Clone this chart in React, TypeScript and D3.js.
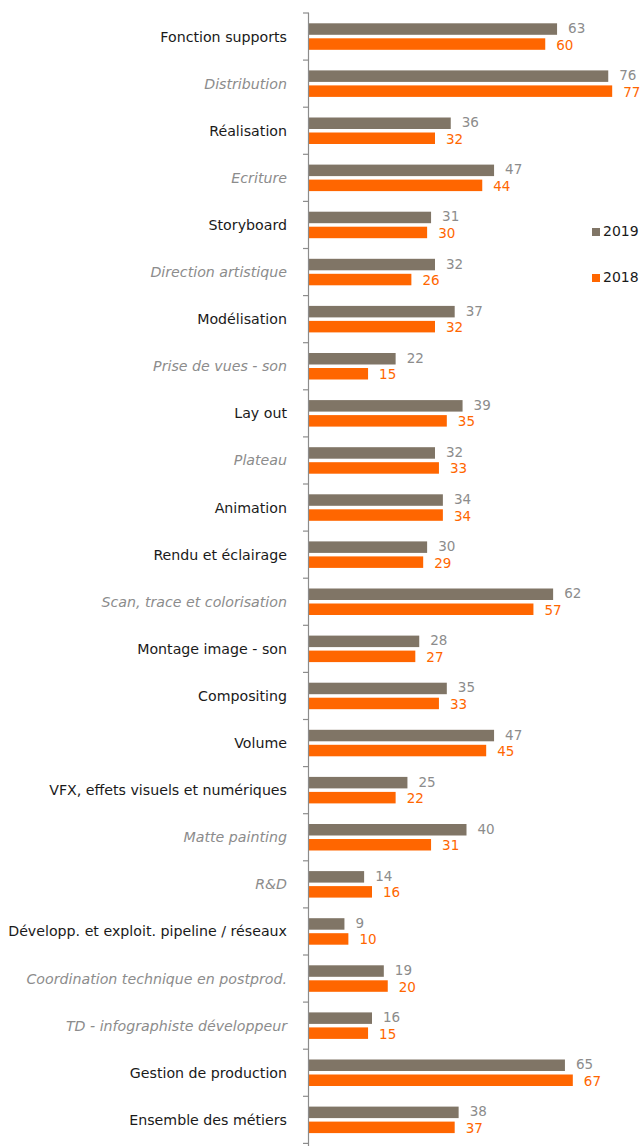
import React, { useEffect, useRef } from 'react';
import * as d3 from 'd3';

const categories = [
  'Fonction supports', 'Distribution', 'Réalisation', 'Ecriture', 'Storyboard',
  'Direction artistique', 'Modélisation', 'Prise de vues - son', 'Lay out', 'Plateau',
  'Animation', 'Rendu et éclairage', 'Scan, trace et colorisation', 'Montage image - son',
  'Compositing', 'Volume', 'VFX, effets visuels et numériques', 'Matte painting', 'R&D',
  'Développ. et exploit. pipeline / réseaux', 'Coordination technique en postprod.',
  'TD - infographiste développeur', 'Gestion de production', 'Ensemble des métiers',
];

// italic grey labels in the original
const italicCats = [
  'Distribution', 'Ecriture', 'Direction artistique', 'Prise de vues - son', 'Plateau',
  'Scan, trace et colorisation', 'Matte painting', 'R&D',
  'Coordination technique en postprod.', 'TD - infographiste développeur',
];

const values2019 = [63, 76, 36, 47, 31, 32, 37, 22, 39, 32, 34, 30, 62, 28, 35, 47, 25, 40, 14, 9, 19, 16, 65, 38];
const values2018 = [60, 77, 32, 44, 30, 26, 32, 15, 35, 33, 34, 29, 57, 27, 33, 45, 22, 31, 16, 10, 20, 15, 67, 37];

const series = ['2019', '2018'];
const colors = { '2019': '#807566', '2018': '#ff6600' };
const labelColors = { '2019': '#8c8c8c', '2018': '#ff6600' };

const App = () => {
  const svgRef = useRef<SVGSVGElement>(null);

  useEffect(() => {
    const width = 641;
    const height = 1146;
    const axisX = 309;
    const top = 13;
    const font = 'Tahoma, "DejaVu Sans", sans-serif';

    const svg = d3.select(svgRef.current);
    svg.selectAll('*').remove();

    const y = d3.scaleBand().domain(categories).range([top, top + 47.1 * categories.length]);
    const x = d3.scaleLinear().domain([0, 80]).range([axisX, axisX + 315]);
    const barH = 11.5;
    const gap = 3.5;

    const rows = svg.append('g');

    categories.forEach((c, i) => {
      const cy = y(c)! + y.bandwidth() / 2;
      const vals = [values2019[i], values2018[i]];
      vals.forEach((v, k) => {
        const s = series[k];
        const by = k === 0 ? cy - gap / 2 - barH : cy + gap / 2;
        rows.append('rect')
          .attr('x', x(0))
          .attr('y', by)
          .attr('width', x(v) - x(0))
          .attr('height', barH)
          .attr('fill', colors[s]);
        rows.append('text')
          .attr('x', x(v) + 11)
          .attr('y', by + barH / 2 + (k === 0 ? 0 : 1.5))
          .attr('dominant-baseline', 'middle')
          .attr('font-family', font)
          .attr('font-size', 13.5)
          .attr('fill', labelColors[s])
          .text(v);
      });

      const italic = italicCats.includes(c);
      rows.append('text')
        .attr('x', 287)
        .attr('y', cy + 1)
        .attr('dominant-baseline', 'middle')
        .attr('text-anchor', 'end')
        .attr('font-family', font)
        .attr('font-size', 14.2)
        .attr('font-style', italic ? 'italic' : 'normal')
        .attr('fill', italic ? '#8c8c8c' : '#1a1a1a')
        .text(c);
    });

    // axis line and ticks
    const axis = svg.append('g').attr('stroke', '#8c8c8c').attr('stroke-width', 1.2);
    axis.append('line')
      .attr('x1', axisX - 0.5).attr('x2', axisX - 0.5)
      .attr('y1', y.range()[0]).attr('y2', height);
    const bounds = categories.map(c => y(c)!).concat([y.range()[1]]);
    axis.selectAll('.tick')
      .data(bounds)
      .enter().append('line')
      .attr('x1', axisX - 6).attr('x2', axisX)
      .attr('y1', d => d).attr('y2', d => d);

    // legend
    const legend = svg.append('g');
    series.forEach((s, i) => {
      const ly = 232 + i * 46;
      legend.append('rect')
        .attr('x', 592).attr('y', ly - 4)
        .attr('width', 8).attr('height', 8)
        .attr('fill', colors[s]);
      legend.append('text')
        .attr('x', 603).attr('y', ly)
        .attr('dominant-baseline', 'middle')
        .attr('font-family', font)
        .attr('font-size', 14)
        .attr('fill', '#1a1a1a')
        .text(s);
    });

    svg.attr('width', width).attr('height', height);
  }, []);

  return (
    <svg ref={svgRef} style={{ position: 'absolute', left: 0, top: 0, background: '#fff' }}></svg>
  );
};

export default App;
